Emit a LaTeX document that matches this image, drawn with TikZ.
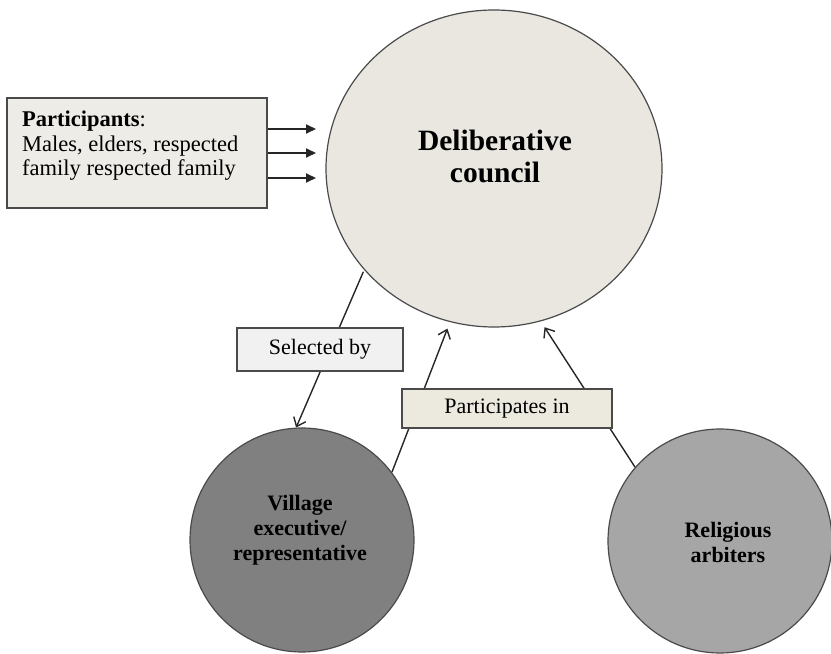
\documentclass[tikz,border=0pt]{standalone}
\usepackage{fontspec}
\setmainfont{Liberation Serif}
\usetikzlibrary{shapes.geometric,arrows.meta}
\definecolor{councilfill}{HTML}{EAE7E0}
\definecolor{partfill}{HTML}{EEECE6}
\definecolor{selfill}{HTML}{F1F1F1}
\definecolor{partinfill}{HTML}{ECE9DF}
\definecolor{villfill}{HTML}{808080}
\definecolor{relfill}{HTML}{A6A6A6}
\definecolor{edge}{HTML}{4A4A4A}
\tikzset{
  roundnode/.style={circle, draw=edge, line width=1.2pt, inner sep=0pt},
  boxnode/.style={rectangle, draw=edge, line width=1.3pt, inner sep=0pt},
  feedarrow/.style={-{Triangle[length=10pt,width=9pt]}, line width=2pt, draw=black!85},
  linkarrow/.style={-{Straight Barb[length=8pt,width=13pt]}, line width=1.4pt, draw=black!85},
  bigtext/.style={font=\bfseries\fontsize{29.5}{32}\selectfont, align=center, inner sep=0pt},
  circtext/.style={font=\bfseries\fontsize{22}{25}\selectfont, align=center, inner sep=0pt},
  lbltext/.style={font=\fontsize{22}{24}\selectfont}
}
\begin{document}
\begin{tikzpicture}[x=1pt,y=1pt]
\useasboundingbox (0,0) rectangle (831,654);
% circles
\node[ellipse, draw=edge, line width=1.2pt, fill=councilfill, minimum width=336pt, minimum height=317pt, inner sep=0pt] (dc) at (494,485.5) {};
\node[roundnode, fill=villfill, minimum size=224pt] (vil) at (302,114) {};
\node[roundnode, fill=relfill, minimum size=224pt] (rel) at (720,113) {};
\node[bigtext] (dctext) at (495,498) {Deliberative\\council};
\node[circtext] (viltext) at (300,124) {Village\\executive/\\representative};
\node[circtext] (reltext) at (728,112) {Religious\\arbiters};
% participants box
\node[boxnode, fill=partfill, minimum width=260pt, minimum height=110pt] (partbox) at (137,501) {};
\node[anchor=north west, inner sep=0pt, align=left, font=\fontsize{22.5}{24.5}\selectfont] (parttext) at (22,543)
  {\textbf{Participants}:\\Males, elders, respected\\family respected family};
\coordinate (t1) at (316,525);
\coordinate (t2) at (316,501);
\coordinate (t3) at (316,476);
\draw[feedarrow] (partbox.east |- t1) -- (t1);
\draw[feedarrow] (partbox.east |- t2) -- (t2);
\draw[feedarrow] (partbox.east |- t3) -- (t3);
% links
\draw[linkarrow, shorten <=2pt] (dc.218.6) -- (vil.93.6);
\draw[linkarrow, shorten >=7pt] (vil.37.8) -- (dc.254.9);
\draw[linkarrow, shorten >=7pt] (rel.139.9) -- (dc.287.7);
% label boxes
\node[boxnode, fill=selfill, minimum width=166pt, minimum height=43pt, lbltext] (sel) at (320,304.5) {Selected by};
\node[boxnode, fill=partinfill, minimum width=210pt, minimum height=39pt, lbltext] (partin) at (507,245.5) {Participates in};
\end{tikzpicture}
\end{document}
